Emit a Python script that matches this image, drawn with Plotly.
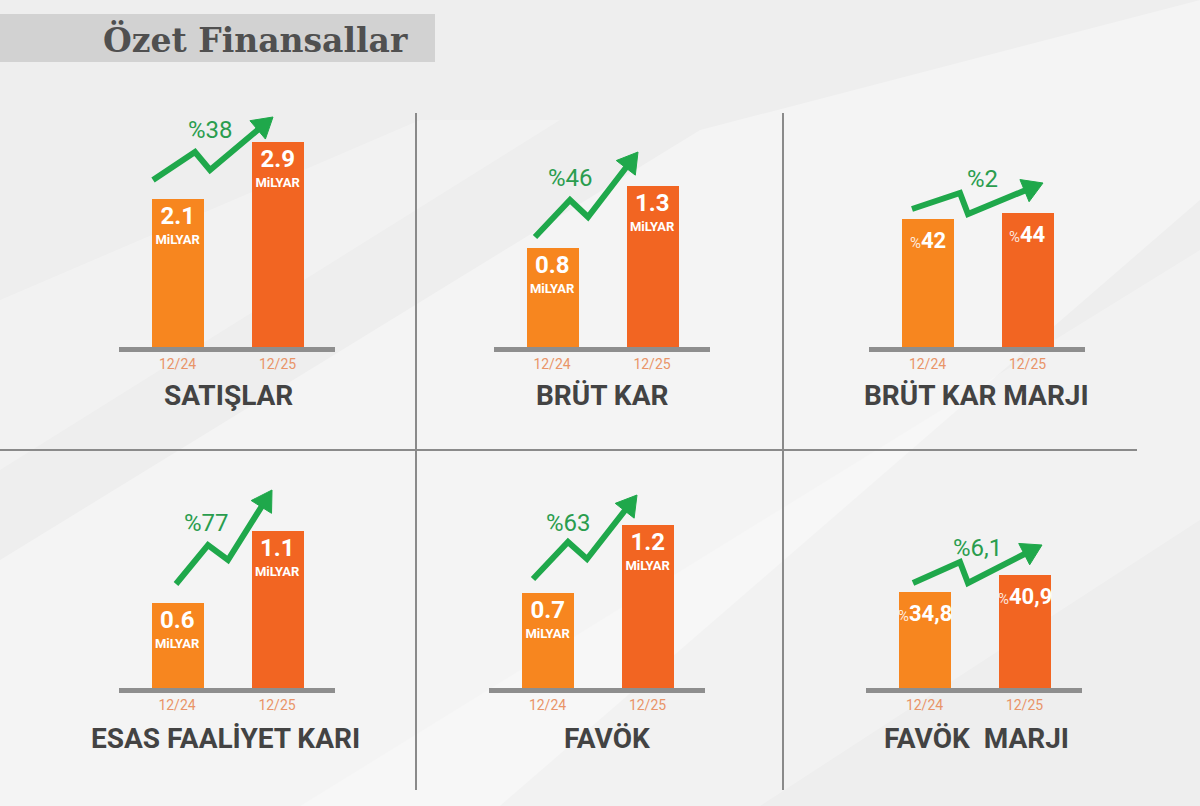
import plotly.graph_objects as go

# ---------------- data ----------------
periods = ["12/24", "12/25"]
panel_titles = ["SATIŞLAR", "BRÜT KAR", "BRÜT KAR MARJI",
                "ESAS FAALİYET KARI", "FAVÖK", "FAVÖK\u00a0 MARJI"]
satislar = [2.1, 2.9]
brut_kar = [0.8, 1.3]
brut_kar_marji = [42, 44]
esas_faaliyet_kari = [0.6, 1.1]
favok = [0.7, 1.2]
favok_marji = [34.8, 40.9]
growth = [38, 46, 2, 77, 63, 6.1]
units = ["MiLYAR", "MiLYAR", "%", "MiLYAR", "MiLYAR", "%"]
series = [satislar, brut_kar, brut_kar_marji, esas_faaliyet_kari, favok, favok_marji]

# ---------------- layout (pixel geometry) ----------------
W, H = 1200, 806
def px(x): return x / W
def py(y): return 1 - y / H

# bar-A centre x, baseline y, top of plotting area y, y-axis max
panels = [
    dict(cx=177.5, base=347, top=100, ymax=3.5),
    dict(cx=552.0, base=347, top=100, ymax=2.0),
    dict(cx=927.5, base=347, top=100, ymax=81),
    dict(cx=177.0, base=688, top=460, ymax=1.6),
    dict(cx=547.5, base=688, top=460, ymax=1.68),
    dict(cx=924.5, base=688, top=460, ymax=82.3),
]
title_pos = [(228, 395), (602, 395), (976, 395), (225, 738), (607, 738), (976, 738)]
growth_pos = [(210, 130), (570, 178), (982, 179), (207, 523), (568, 523), (977, 548)]
arrows = [
    [(153, 180), (195, 152), (210, 170), (273, 117)],
    [(535, 237), (570, 200), (588, 217), (638, 152)],
    [(912, 209), (960, 193), (968, 214), (1043, 183)],
    [(176, 584), (208, 545), (228, 560), (272, 490)],
    [(533, 579), (568, 542), (587, 559), (637, 495)],
    [(913, 583), (960, 562), (968, 583), (1042, 545)],
]

C_OLD = "#F7861F"
C_NEW = "#F26522"
GREEN = "#1FA84B"
DARK = "#434343"
TICK = "#E99468"
LINE = "#8E8E8E"

def fmt(v):
    return f"{v:g}"

def milyar_text(v, unit):
    return (f"<b><span style='font-size:24px'>{v:.1f}</span></b><br>"
            f"<b><span style='font-size:13px'>{unit}</span></b>")

def pct_text(v):
    return ("<span style='font-size:15px;color:rgba(255,255,255,0.85)'>%</span>"
            f"<b>{fmt(v).replace('.', ',')}</b>")

fig = go.Figure()
layout = dict(
    width=W, height=H,
    margin=dict(l=0, r=0, t=0, b=0),
    paper_bgcolor="#EEEEEE",
    plot_bgcolor="rgba(0,0,0,0)",
    showlegend=False,
    bargap=0,
)
annotations = []

XL, XR = -0.585, 1.575  # axis range in category units (100 px per unit)
for i, (p, vals) in enumerate(zip(panels, series)):
    k = "" if i == 0 else str(i + 1)
    x0 = p["cx"] + XL * 100
    x1 = p["cx"] + XR * 100
    is_pct = units[i] == "%"
    fig.add_trace(go.Bar(
        x=[0, 1], y=vals,
        marker=dict(color=[C_OLD, C_NEW], line=dict(width=0)),
        width=0.52,
        text=None if is_pct else [milyar_text(v, units[i]) for v in vals],
        textposition="inside",
        insidetextanchor="end",
        constraintext="none",
        textangle=0,
        textfont=dict(family="Roboto", size=15, color="white"),
        xaxis="x" + k, yaxis="y" + k,
        hoverinfo="skip",
    ))
    if is_pct:
        for j, v in enumerate(vals):
            annotations.append(dict(
                text=pct_text(v), x=j, y=v, xref="x" + k, yref="y" + k,
                showarrow=False, xanchor="center", yanchor="middle", yshift=-22,
                font=dict(family="Roboto", size=22, color="white")))
    layout["xaxis" + k] = dict(
        domain=[px(x0), px(x1)], range=[XL, XR], anchor="y" + k,
        tickmode="array", tickvals=[0, 1], ticktext=periods,
        showline=True, linecolor=LINE, linewidth=5,
        showgrid=False, zeroline=False, ticks="",
        tickfont=dict(family="Roboto", size=14, color=TICK),
        fixedrange=True,
    )
    layout["yaxis" + k] = dict(
        domain=[py(p["base"]), py(p["top"])], range=[0, p["ymax"]],
        anchor="x" + k, visible=False, fixedrange=True,
    )

shapes = []
# subtle background light streaks
for poly, op in [
    ([(0, 806), (0, 560), (700, 130), (1200, 0), (1200, 200), (500, 806)], 0.35),
    ([(300, 806), (1200, 250), (1200, 520), (760, 806)], 0.25),
    ([(0, 470), (0, 300), (420, 120), (560, 120)], 0.25),
]:
    d = "M " + " L ".join(f"{px(x)},{py(y)}" for x, y in poly) + " Z"
    shapes.append(dict(type="path", path=d, xref="paper", yref="paper",
                       fillcolor=f"rgba(255,255,255,{op})", line=dict(width=0), layer="below"))

# title banner
shapes.append(dict(type="rect", xref="paper", yref="paper",
                   x0=px(0), x1=px(435), y0=py(62), y1=py(14),
                   fillcolor="#D2D2D2", line=dict(width=0), layer="below"))
# divider lines
for (xa, ya, xb, yb) in [(416, 113, 416, 790), (783, 113, 783, 790), (0, 450, 1137, 450)]:
    shapes.append(dict(type="line", xref="paper", yref="paper",
                       x0=px(xa), y0=py(ya), x1=px(xb), y1=py(yb),
                       line=dict(color="#8A8A8A", width=2), layer="below"))

# green zig-zag arrows
HEAD_L, HEAD_W = 20, 12
for pts in arrows:
    (vx, vy), (tx, ty) = pts[2], pts[3]
    dx, dy = tx - vx, ty - vy
    n = (dx * dx + dy * dy) ** 0.5
    ux, uy = dx / n, dy / n
    bx, by = tx - ux * HEAD_L, ty - uy * HEAD_L
    shaft = pts[:3] + [(bx + ux * 2, by + uy * 2)]
    d = "M " + " L ".join(f"{px(x)},{py(y)}" for x, y in shaft)
    shapes.append(dict(type="path", path=d, xref="paper", yref="paper",
                       line=dict(color=GREEN, width=6)))
    nx, ny = -uy, ux
    tri = [(tx, ty), (bx + nx * HEAD_W, by + ny * HEAD_W), (bx - nx * HEAD_W, by - ny * HEAD_W)]
    d = "M " + " L ".join(f"{px(x)},{py(y)}" for x, y in tri) + " Z"
    shapes.append(dict(type="path", path=d, xref="paper", yref="paper",
                       fillcolor=GREEN, line=dict(color=GREEN, width=1)))

annotations.append(dict(text="<b>Özet Finansallar</b>", x=px(255), y=py(40), xref="paper", yref="paper",
                        showarrow=False, xanchor="center", yanchor="middle",
                        font=dict(family="DejaVu Serif", size=33, color="#505050")))
for t, (x, y) in zip(panel_titles, title_pos):
    annotations.append(dict(text=f"<b>{t}</b>", x=px(x), y=py(y), xref="paper", yref="paper",
                            showarrow=False, xanchor="center", yanchor="middle",
                            font=dict(family="Roboto", size=28, color=DARK)))
for g, (x, y) in zip(growth, growth_pos):
    annotations.append(dict(text="%" + fmt(g).replace(".", ","), x=px(x), y=py(y),
                            xref="paper", yref="paper", showarrow=False,
                            xanchor="center", yanchor="middle",
                            font=dict(family="Roboto", size=24, color="#2A9D4E")))

layout["shapes"] = shapes
layout["annotations"] = annotations
fig.update_layout(**layout)
fig.write_html("out.html",
               config={"displayModeBar": False},
               post_script="document.body.style.margin='0';document.body.style.padding='0';")
